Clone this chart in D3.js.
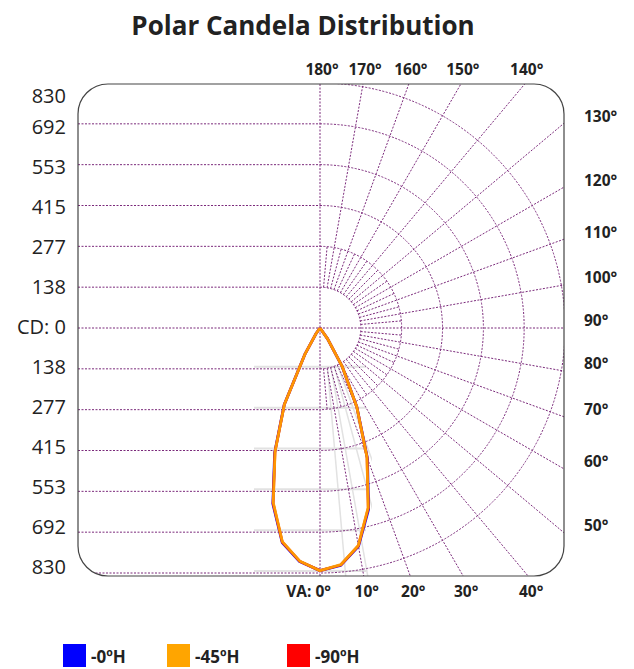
<html>
<head>
  <script src="https://d3js.org/d3.v7.min.js"></script>
  <style>
    body { margin: 0; background: #fff; }
    text { font-family: "Open Sans", "Noto Sans", sans-serif; fill: #222; }
  </style>
</head>
<body>
  <svg id="polar" width="634" height="669"></svg>
  <script>
    // vertical angles (deg from nadir) and candela per half-plane
    const angles = [0, 5, 10, 15, 20, 25, 30, 35, 40, 45, 50, 55, 60, 65, 70, 75, 80, 85, 90];
    const h0Right = [822, 807, 751, 636, 470, 296, 149, 44, 0, 0, 0, 0, 0, 0, 0, 0, 0, 0, 0];
    const h0Left = [822, 794, 738, 617, 449, 287, 101, 25, 0, 0, 0, 0, 0, 0, 0, 0, 0, 0, 0];
    const h45Right = [822, 805, 748, 630, 465, 295, 150, 45, 0, 0, 0, 0, 0, 0, 0, 0, 0, 0, 0];
    const h45Left = [822, 792, 735, 612, 445, 285, 100, 25, 0, 0, 0, 0, 0, 0, 0, 0, 0, 0, 0];
    const h90Right = [822, 806, 749, 632, 466, 295, 150, 45, 0, 0, 0, 0, 0, 0, 0, 0, 0, 0, 0];
    const h90Left = [822, 793, 736, 614, 446, 286, 100, 25, 0, 0, 0, 0, 0, 0, 0, 0, 0, 0, 0];

    const seriesNames = ["-0ºH", "-45ºH", "-90ºH"];
    const seriesColors = ["#0000ff", "#ffa500", "#ff0000"];

    const cdMax = 830;
    const cdTicks = ["830", "692", "553", "415", "277", "138", "CD: 0", "138", "277", "415", "553", "692", "830"];
    const topAngles = [180, 170, 160, 150, 140];
    const rightAngles = [130, 120, 110, 100, 90, 80, 70, 60, 50];
    const bottomAngles = [0, 10, 20, 30, 40];

    const svg = d3.select("svg#polar");
    const frame = { left: 78, top: 84, right: 564, bottom: 576, radius: 30 };
    const cx = 320, cy = 328, R = 245;
    const gridColor = "#7b2a7b";

    const rScale = d3.scaleLinear().domain([0, cdMax]).range([0, R]);
    const ringValues = d3.range(1, 7).map(k => cdMax * k / 6);
    const rad = d => d * Math.PI / 180;

    // title
    svg.append("text")
      .attr("x", 303).attr("y", 35)
      .attr("text-anchor", "middle")
      .style("font-size", "26px").style("font-weight", "bold")
      .text("Polar Candela Distribution");

    svg.append("defs").append("clipPath").attr("id", "frameClip")
      .append("rect")
      .attr("x", frame.left).attr("y", frame.top)
      .attr("width", frame.right - frame.left).attr("height", frame.bottom - frame.top)
      .attr("rx", frame.radius);

    // faint grey ghost of the grid near the curve
    svg.append("defs").append("clipPath").attr("id", "ghostClip")
      .append("rect").attr("x", 254).attr("y", 318).attr("width", 118).attr("height", 258);
    const ghost = svg.append("g").attr("clip-path", "url(#ghostClip)")
      .attr("stroke", "#e2e2e2").attr("stroke-width", 2).attr("fill", "none");
    ringValues.forEach(v => {
      ghost.append("line")
        .attr("x1", 254).attr("x2", 366)
        .attr("y1", cy + rScale(v) - 2).attr("y2", cy + rScale(v) - 2);
    });
    [5, 10, 15, 20].forEach(a => {
      ghost.append("line")
        .attr("stroke-width", 1.5)
        .attr("x1", cx + 4 + rScale(ringValues[0]) * Math.sin(rad(a)))
        .attr("y1", cy + rScale(ringValues[0]) * Math.cos(rad(a)))
        .attr("x2", cx + 4 + 400 * Math.sin(rad(a)))
        .attr("y2", cy + 400 * Math.cos(rad(a)));
    });

    const grid = svg.append("g").attr("clip-path", "url(#frameClip)");
    const dotted = sel => sel.attr("stroke", gridColor).attr("stroke-width", 1)
      .attr("stroke-dasharray", "2,1.5").attr("fill", "none");

    // horizontal candela lines on the left half
    ringValues.forEach(v => {
      [-1, 1].forEach(s => {
        grid.append("line")
          .attr("x1", frame.left).attr("x2", cx)
          .attr("y1", cy + s * rScale(v)).attr("y2", cy + s * rScale(v))
          .call(dotted);
      });
    });
    grid.append("line").attr("x1", frame.left).attr("x2", frame.right)
      .attr("y1", cy).attr("y2", cy).call(dotted);
    grid.append("line").attr("x1", cx).attr("x2", cx)
      .attr("y1", frame.top).attr("y2", frame.bottom).call(dotted);

    // half rings on the right
    ringValues.forEach(v => {
      const p = d3.path();
      p.arc(cx, cy, rScale(v), -Math.PI / 2, Math.PI / 2);
      grid.append("path").attr("d", p.toString()).call(dotted);
    });

    // radial lines: every 10 deg to the frame, every 5 deg between ring 1 and 2
    d3.range(5, 180, 5).filter(a => a !== 90).forEach(a => {
      const r1 = rScale(ringValues[0]);
      const r2 = a % 10 === 0 ? 420 : rScale(ringValues[1]);
      grid.append("line")
        .attr("x1", cx + r1 * Math.sin(rad(a))).attr("y1", cy + r1 * Math.cos(rad(a)))
        .attr("x2", cx + r2 * Math.sin(rad(a))).attr("y2", cy + r2 * Math.cos(rad(a)))
        .call(dotted);
    });

    // frame
    svg.append("rect")
      .attr("x", frame.left).attr("y", frame.top)
      .attr("width", frame.right - frame.left).attr("height", frame.bottom - frame.top)
      .attr("rx", frame.radius)
      .attr("fill", "none").attr("stroke", "#444").attr("stroke-width", 1.2);

    // candela labels
    const labelY = d3.scaleLinear().domain([0, cdTicks.length - 1]).range([87, 567]);
    svg.selectAll("text.cd").data(cdTicks).join("text")
      .attr("class", "cd")
      .attr("x", 66)
      .attr("y", (d, i) => Math.max(labelY(i), 96))
      .attr("dy", "0.35em")
      .attr("text-anchor", "end")
      .style("font-size", "20px")
      .text(d => d);

    // where an angle's line meets the frame
    function frameHit(a) {
      const dx = Math.sin(rad(a)), dy = Math.cos(rad(a));
      let t = Infinity;
      if (dx > 1e-6) t = Math.min(t, (frame.right - cx) / dx);
      if (dy > 1e-6) t = Math.min(t, (frame.bottom - cy) / dy);
      if (dy < -1e-6) t = Math.min(t, (frame.top - cy) / dy);
      return [cx + t * dx, cy + t * dy];
    }

    const angleLabel = (x, y, txt, anchor) => svg.append("text")
      .attr("x", x).attr("y", y).attr("dy", "0.35em")
      .attr("text-anchor", anchor)
      .style("font-size", "15.5px").style("font-weight", "bold")
      .text(txt);

    topAngles.forEach(a => {
      const [x] = frameHit(a);
      angleLabel(x + 2, 70, a + "°", "middle");
    });
    rightAngles.forEach(a => {
      const [, y] = frameHit(a);
      angleLabel(584, y - 7, a + "°", "start");
    });
    bottomAngles.forEach(a => {
      const [x] = frameHit(a);
      if (a === 0) angleLabel(x + 11, 592, "VA: 0°", "end");
      else angleLabel(x + 3, 592, a + "°", "middle");
    });

    // candela curves
    const curveData = [[h0Left, h0Right], [h45Left, h45Right], [h90Left, h90Right]].map(([left, right]) => {
      const pts = [];
      for (let i = angles.length - 1; i >= 0; i--) pts.push({ a: Math.PI + rad(angles[i]), v: left[i] });
      for (let i = 1; i < angles.length; i++) pts.push({ a: Math.PI - rad(angles[i]), v: right[i] });
      return pts;
    });

    const radial = d3.lineRadial().angle(d => d.a).radius(d => rScale(d.v));
    const curves = svg.append("g").attr("transform", `translate(${cx},${cy})`);
    [0, 2, 1].forEach(i => {
      curves.append("path")
        .attr("d", radial(curveData[i]))
        .attr("fill", "none")
        .attr("stroke", seriesColors[i])
        .attr("stroke-width", 2.8)
        .attr("stroke-linejoin", "round")
        .attr("opacity", 0.9);
    });

    // legend
    const legendX = [63, 167, 287];
    const legend = svg.append("g");
    seriesNames.forEach((name, i) => {
      legend.append("rect")
        .attr("x", legendX[i]).attr("y", 644)
        .attr("width", 23).attr("height", 23)
        .attr("fill", seriesColors[i]);
      legend.append("text")
        .attr("x", legendX[i] + 28).attr("y", 663)
        .style("font-size", "17px").style("font-weight", "bold")
        .text(name);
    });
  </script>
</body>
</html>
